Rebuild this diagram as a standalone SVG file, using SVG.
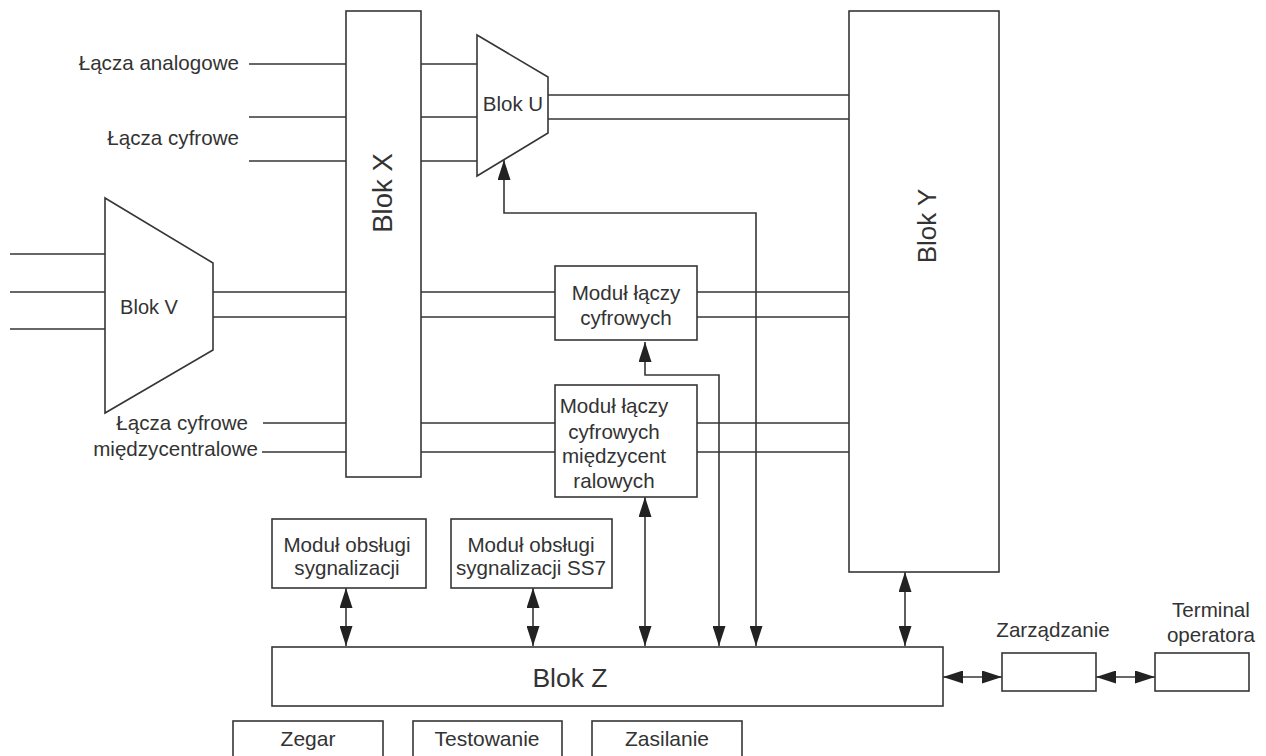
<svg xmlns="http://www.w3.org/2000/svg" width="1266" height="756" viewBox="0 0 1266 756">
<defs>
<style>
.n{fill:#fff;stroke:#363636;stroke-width:1.6}
.c{fill:none;stroke:#363636;stroke-width:1.6}
.a{fill:none;stroke:#363636;stroke-width:1.6;marker-start:url(#ah);marker-end:url(#ah)}
text{font-family:"Liberation Sans",Arial,sans-serif;fill:#333;font-size:20.6px}
.m{text-anchor:middle}
.r{text-anchor:end}
</style>
<marker id="ah" viewBox="0 0 20 13" refX="20" refY="6.5" markerWidth="20" markerHeight="13" markerUnits="userSpaceOnUse" orient="auto-start-reverse">
<path d="M0,0 L20,6.5 L0,13 z" fill="#222"/>
</marker>
</defs>
<rect width="1266" height="756" fill="#fff"/>
<g id="connectors">
<path class="c" d="M249,64H346M249,117H346M249,161H346"/>
<path class="c" d="M10,254H105M10,292H105M10,329H105"/>
<path class="c" d="M213,292H346M213,317H346"/>
<path class="c" d="M263,423H346M262,452H346"/>
<path class="c" d="M421,64H477M421,117H477M421,161H477"/>
<path class="c" d="M548,95H849M548,119H849"/>
<path class="c" d="M421,292H555M421,317H555M697,292H849M697,317H849"/>
<path class="c" d="M421,423H555M421,452H555M697,423H849M697,452H849"/>
<path class="a" d="M756,646V213H504V160"/>
<path class="a" d="M719,646V375H645V342"/>
<path class="a" d="M645,497V646"/>
<path class="a" d="M346,588V646"/>
<path class="a" d="M533,588V646"/>
<path class="a" d="M905,572V646"/>
<path class="a" d="M943,677H1002"/>
<path class="a" d="M1096,677H1155"/>
</g>
<g id="label-lacza-analogowe"><text class="r" x="239" y="70">Łącza analogowe</text></g>
<g id="label-lacza-cyfrowe"><text class="r" x="239" y="145">Łącza cyfrowe</text></g>
<g id="label-lacza-miedzycentralowe"><text class="r" x="248" y="430">Łącza cyfrowe</text><text class="r" x="258" y="456">międzycentralowe</text></g>
<g id="blok-x"><rect class="n" x="346" y="11" width="75" height="466"/><text class="m" transform="translate(392,193) rotate(-90)" style="font-size:27.5px">Blok X</text></g>
<g id="blok-y"><rect class="n" x="849" y="11" width="150" height="561"/><text class="m" transform="translate(936,226) rotate(-90)" style="font-size:26px">Blok Y</text></g>
<g id="blok-u"><polygon class="n" points="477,35 548,77 548,133 477,176"/><text class="m" x="513" y="111" style="font-size:20.5px">Blok U</text></g>
<g id="blok-v"><polygon class="n" points="105,198 213,263 213,350 105,413"/><text class="m" x="149" y="314" style="font-size:20px">Blok V</text></g>
<g id="modul-cyfrowych"><rect class="n" x="555" y="266" width="142" height="74"/><text class="m" x="626" y="300">Moduł łączy</text><text class="m" x="626" y="325">cyfrowych</text></g>
<g id="modul-miedzycentralowych"><rect class="n" x="555" y="385" width="142" height="112"/><text class="m" x="614" y="413">Moduł łączy</text><text class="m" x="614" y="439">cyfrowych</text><text class="m" x="614" y="463">międzycent</text><text class="m" x="614" y="488">ralowych</text></g>
<g id="modul-sygnalizacji"><rect class="n" x="272" y="519" width="154" height="69"/><text class="m" x="347" y="552">Moduł obsługi</text><text class="m" x="347" y="575">sygnalizacji</text></g>
<g id="modul-ss7"><rect class="n" x="451" y="519" width="161" height="69"/><text class="m" x="531" y="552">Moduł obsługi</text><text class="m" x="531" y="575">sygnalizacji SS7</text></g>
<g id="blok-z"><rect class="n" x="272" y="647" width="671" height="59"/><text class="m" x="570" y="687" style="font-size:26.5px">Blok Z</text></g>
<g id="zarzadzanie"><rect class="n" x="1002" y="653" width="94" height="38"/><text class="m" x="1053" y="637">Zarządzanie</text></g>
<g id="terminal"><rect class="n" x="1155" y="653" width="94" height="38"/><text class="m" x="1211" y="617">Terminal</text><text class="m" x="1211" y="642">operatora</text></g>
<g id="zegar"><rect class="n" x="233" y="721" width="150" height="50"/><text class="m" x="308" y="746" style="font-size:21px">Zegar</text></g>
<g id="testowanie"><rect class="n" x="413" y="721" width="149" height="50"/><text class="m" x="487" y="746" style="font-size:21px">Testowanie</text></g>
<g id="zasilanie"><rect class="n" x="592" y="721" width="150" height="50"/><text class="m" x="667" y="746" style="font-size:21px">Zasilanie</text></g>
</svg>
